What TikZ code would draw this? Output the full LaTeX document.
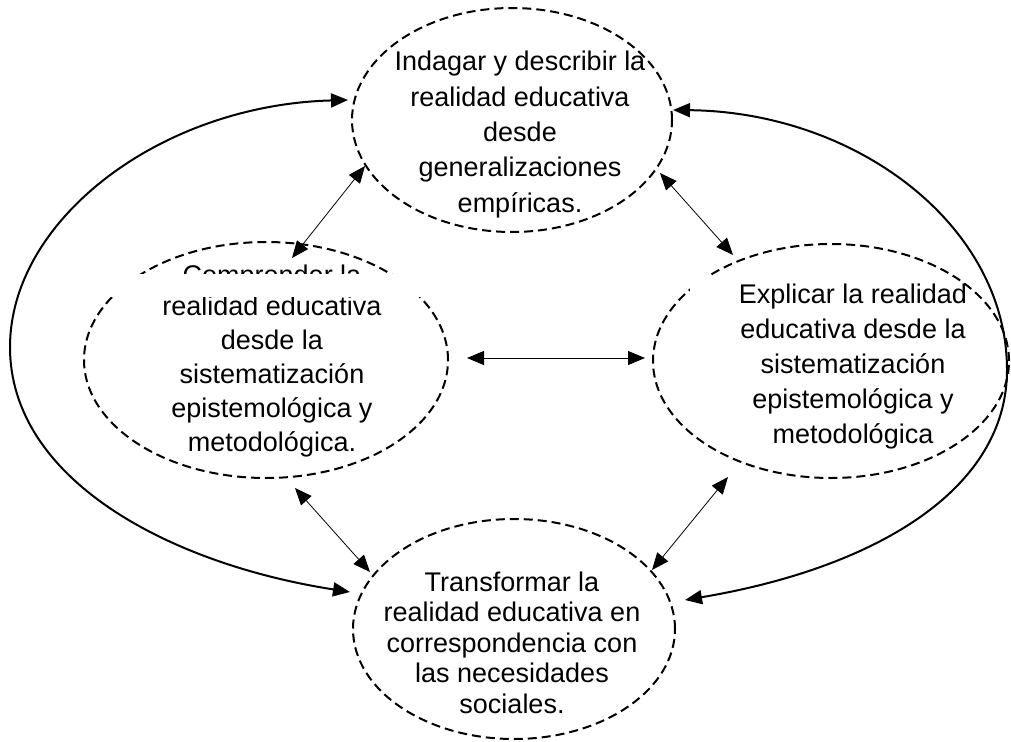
\documentclass[tikz,border=0pt]{standalone}
\usepackage{fontspec}
\setmainfont{Liberation Sans}
\usetikzlibrary{shapes.geometric,arrows.meta,calc}
\begin{document}
\begin{tikzpicture}[x=1pt,y=-1pt,
  oval/.style={ellipse, draw, dash pattern=on 9pt off 5pt, line width=2pt, inner sep=0pt, outer sep=0pt},
  lbl/.style={align=center, inner sep=0pt, anchor=base},
  headtip/.tip={Triangle[length=17pt,width=14pt]},
  big/.style={line width=2pt, headtip-headtip},
  dbl/.style={line width=0.8pt, headtip-headtip}]
\useasboundingbox (0,0) rectangle (1011,741);
% ellipses
\node[oval, minimum width=320pt, minimum height=224pt] (T) at (512,120) {};
\node[oval, minimum width=364pt, minimum height=236pt] (L) at (266,360) {};
\node[oval, minimum width=356pt, minimum height=234pt] (R) at (831,361) {};
\node[oval, minimum width=322pt, minimum height=220pt] (B) at (514,629) {};
% texts (base anchor = baseline of the last line)
\node[lbl, font=\fontsize{27}{35.3}\selectfont] (Tt) at (520,212)
  {Indagar y describir la\\realidad educativa\\desde\\generalizaciones\\empíricas.};
\node[lbl, font=\fontsize{27}{31}\selectfont] (Lt0) at (272,284) {Comprender la};
\node[lbl, font=\fontsize{27}{34}\selectfont] (Lt) at (272,451)
  {realidad educativa\\desde la\\sistematización\\epistemológica y\\metodológica.};
\node[lbl, font=\fontsize{27}{35}\selectfont] (Rt) at (853,443)
  {Explicar la realidad\\educativa desde la\\sistematización\\epistemológica y\\metodológica};
\node[lbl, font=\fontsize{27}{30.5}\selectfont] (Bt) at (512,713)
  {Transformar la\\realidad educativa en\\correspondencia con\\las necesidades\\sociales.};
% white masks (text boxes covering parts)
\fill[white] (108,274) rectangle (424,297);
\fill[white] (690,276) rectangle (740,296);
% thin double arrows
\draw[dbl] ($(T)+(-147,46)$) -- ($(L)+(26,-102)$);
\draw[dbl] ($(T)+(148,53)$) -- ($(R)+(-98,-106)$);
\draw[dbl] ($(L)+(201,-2)$) -- ($(R)+(-186,-3)$);
\draw[dbl] ($(L)+(29,128)$) -- ($(B)+(-144,-57)$);
\draw[dbl] ($(R)+(-103,116)$) -- ($(B)+(138,-59)$);
% big curved arrows
\coordinate (lw) at (10,347);
\coordinate (rw) at (1007,370);
\draw[big] ($(B)+(-164,-37)$) .. controls (170,564) and (10,480) .. (lw)
  .. controls (10,220) and (160,105) .. ($(T)+(-164,-20)$);
\draw[big] ($(T)+(161,-10)$) .. controls (857,112) and (1007,226) .. (rw)
  .. controls (1007,490) and (875,568) .. ($(B)+(171,-29)$);
\end{tikzpicture}
\end{document}
